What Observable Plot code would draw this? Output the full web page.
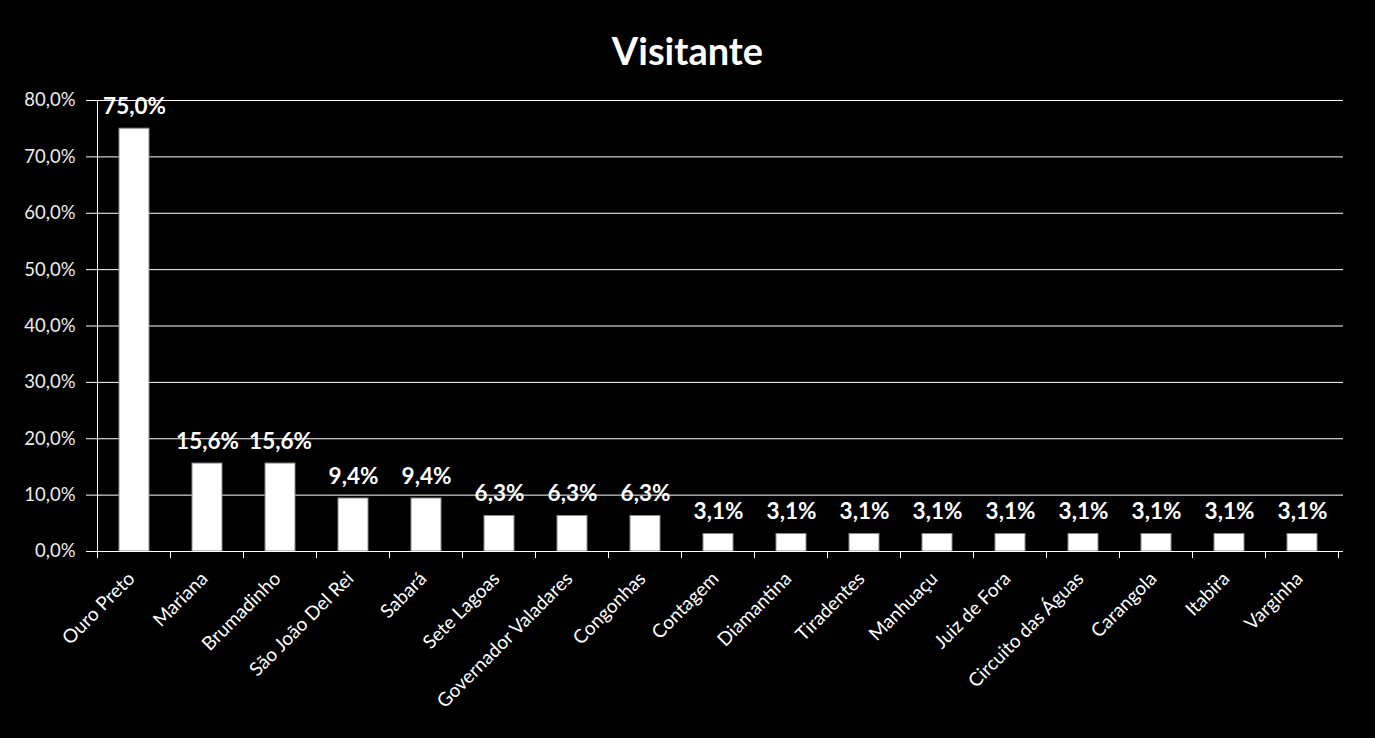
<!DOCTYPE html>
<html><head><meta charset="utf-8">
<script src="https://cdn.jsdelivr.net/npm/d3@7"></script>
<script src="https://cdn.jsdelivr.net/npm/@observablehq/plot@0.6"></script>
<style>
html,body{margin:0;padding:0;background:#000;}
#title{height:60px;padding-top:20px;display:flex;align-items:center;justify-content:center;color:#fff;font:bold 38px Lato, sans-serif;}
#chart{height:658px;}
</style>
</head><body>
<div id="title">Visitante</div>
<div id="chart"></div>
<script>
const cities = ["Ouro Preto","Mariana","Brumadinho","São João Del Rei","Sabará","Sete Lagoas","Governador Valadares","Congonhas","Contagem","Diamantina","Tiradentes","Manhuaçu","Juiz de Fora","Circuito das Águas","Carangola","Itabira","Varginha"];
const values = [75.0,15.6,15.6,9.4,9.4,6.3,6.3,6.3,3.1,3.1,3.1,3.1,3.1,3.1,3.1,3.1,3.1];
const yTicks = [0,10,20,30,40,50,60,70,80];

const fmt = v => v.toFixed(1).replace(".", ",") + "%";
const data = cities.map((c,i)=>({city:c, value:values[i]}));

const plot = Plot.plot({
  width:1375, height:658, marginTop:20, marginBottom:187, marginLeft:93, marginRight:32,
  style:{background:"#000", color:"#fff", fontFamily:"Lato, sans-serif", fontSize:"18px"},
  x:{domain:cities, paddingInner:0.59, paddingOuter:0.295, label:null},
  y:{domain:[0,80], label:null},
  marks:[
    Plot.gridY(yTicks,{stroke:"#fff", strokeOpacity:1, strokeWidth:1}),
    Plot.axisY(yTicks,{tickFormat:fmt, tickSize:7, tickPadding:11, stroke:"#fff", fill:"#eee", fontSize:18.5, label:null}),
    Plot.barY(data,{x:"city", y:"value", fill:"#fff", stroke:"#8a8a8a", strokeWidth:1}),
    Plot.text(data,{x:"city", y:"value", text:d=>fmt(d.value), lineAnchor:"bottom", dy:-15, fill:"#fff", fontWeight:"bold", fontSize:22.5}),
    Plot.axisX({tickSize:0, tickRotate:-45, tickPadding:24, dx:-3, fontSize:19, fill:"#fff", label:null}),
    Plot.ruleY([0],{stroke:"#fff"})
  ]
});

const xs = plot.scale("x"), ys = plot.scale("y");
const half = (xs.step - xs.bandwidth)/2;
const bounds = cities.map(c => xs.apply(c) - half);
bounds.push(xs.apply(cities[cities.length-1]) + xs.bandwidth + half);
const y0 = ys.apply(0), yTop = ys.apply(80);
const g = d3.select(plot).append("g").attr("stroke","#fff").attr("stroke-width",1);
g.selectAll("line.t").data(bounds).join("line")
  .attr("x1",d=>d).attr("x2",d=>d).attr("y1",y0).attr("y2",y0+7);
g.append("line").attr("x1",bounds[0]).attr("x2",bounds[0]).attr("y1",yTop).attr("y2",y0);
document.getElementById("chart").appendChild(plot);
</script>
</body></html>
